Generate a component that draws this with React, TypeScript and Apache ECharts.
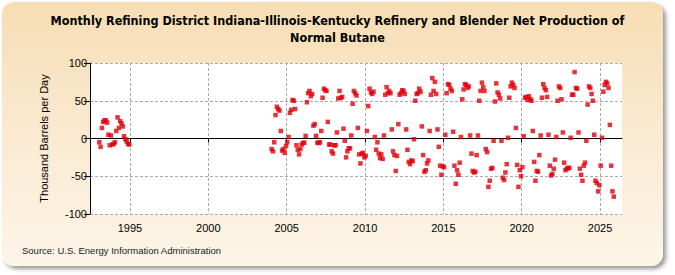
import React, { useEffect, useRef } from "react";
import * as echarts from "echarts";

// Monthly values (thousand barrels per day), Jan..Dec
const v1993 = [-5, -11, 14, 22, 24, 24, 21, 5, -9, 4, -8, -7];
const v1994 = [-5, 10, 28, 14, 23, 20, 16, 3, -1, -4, -7, -8];
const v2004 = [-14, -17, -5, 31, 42, 39, 37, 10, -16, -14, -19, -10];
const v2005 = [-5, 2, 34, 38, 51, 50, 39, -9, -15, -21, -14, -8];
const v2006 = [-6, -5.5, 3.5, 48, 60, 63, 56, 59, 17, 19, 3.5, -5.5];
const v2007 = [-6, -5, 10, 54, 66, 64, 63, 22, -8, -8, -17, -20];
const v2008 = [-9, -9, 8, 53, 63, 54, 55, 13, -3, -25, -17, -13];
const v2009 = [-13, 4, 46, 63, 60, 57, 14, -21, -33, -20, -19, -25];
const v2010 = [-23, 10, 43, 66, 61, 59, 62, 2, -15, -5, -20, -26];
const v2011 = [-21, -27, 4, 58, 68, 60, 63, 60, 12, -17, -22, -43];
const v2012 = [-23, 19, 58, 60, 64, 63, 59, 12, -15, -31, -34, -29];
const v2013 = [-30, -1, 50, 59, 60, 66, 62, 16, -22, -44, -42, -33];
const v2014 = [-29, 10, 58, 80, 63, 75, 59, 12, -11, -36, -48, -37];
const v2015 = [-38, 5, 60, 72, 71, 66, 63, 9, -36, -60, -42, -48];
const v2016 = [-32, 2, 52, 65, 72, 71, 67, 69, 4, -20, -43, -45];
const v2017 = [-44, -22, 4, 50, 63, 74, 68, 63, -14, -18, -64, -56];
const v2018 = [-40, -39, -3, 49, 73, 61, 58, 53, -3, -52, -55, -45];
const v2019 = [-34, 1, 54, 69, 74, 71, 67, 14, -35, -64, -42, -50];
const v2020 = [-38, 3, 54, 55, 51, 56, 52, 50, 10, -31, -56, -43];
const v2021 = [-44, -22, 4, 54, 72, 67, 64, 55, 5, -36, -49, -47];
const v2022 = [-40, -28, 2, 50, 69, 67, 52, 8, -32, -42, -40, -39];
const v2023 = [-39, 1, 58, 58, 88, 67, 66, 8, -40, -48, -56, -36];
const v2024 = [-32, -3, 45, 69, 67, 59, 50, 5, -56, -59, -70, -62];
const v2025 = [-36, 1, 62, 71, 75, 73, 67, 18, -36, -70, -77];

const yearly: [number, number[]][] = [
  [1993, v1993], [1994, v1994],
  [2004, v2004], [2005, v2005], [2006, v2006], [2007, v2007], [2008, v2008],
  [2009, v2009], [2010, v2010], [2011, v2011], [2012, v2012], [2013, v2013],
  [2014, v2014], [2015, v2015], [2016, v2016], [2017, v2017], [2018, v2018],
  [2019, v2019], [2020, v2020], [2021, v2021], [2022, v2022], [2023, v2023],
  [2024, v2024], [2025, v2025],
];

const xTicks = [1995, 2000, 2005, 2010, 2015, 2020, 2025];
const yTicks = [-100, -50, 0, 50, 100];

const titleText =
  "Monthly Refining District Indiana-Illinois-Kentucky Refinery and Blender Net Production of\nNormal Butane";
const yAxisName = "Thousand Barrels per Day";
const sourceText = "Source: U.S. Energy Information Administration";

export default function App() {
  const ref = useRef<HTMLDivElement>(null);
  useEffect(() => {
    if (!ref.current) return;
    const chart = echarts.init(ref.current, null, { renderer: "svg" });
    const points: [number, number][] = [];
    yearly.forEach(([yr, vals]) => {
      vals.forEach((v, i) => points.push([yr + (i + 0.5) / 12, v]));
    });
    const font = "Arial, 'Liberation Sans', sans-serif";
    chart.setOption({
      animation: false,
      title: {
        text: titleText,
        left: "center",
        top: 7,
        textStyle: {
          fontFamily: "'Liberation Sans Narrow', 'Arial Narrow', 'DejaVu Sans Condensed', sans-serif",
          fontSize: 12.5,
          fontWeight: "bold",
          color: "#000",
          lineHeight: 17,
        },
      },
      graphic: [
        {
          type: "text",
          left: 22,
          top: 245,
          style: { text: sourceText, fontFamily: font, fontSize: 9.5, fill: "#222" },
        },
      ],
      grid: {
        left: 90,
        right: 53,
        top: 63,
        bottom: 61,
        show: true,
        backgroundColor: "#ffffff",
        borderWidth: 0,
      },
      xAxis: {
        type: "value",
        min: 1992.45,
        max: 2026.4,
        axisLine: { show: true, lineStyle: { color: "#000", width: 1 } },
        axisTick: { show: true, length: 4, customValues: xTicks, lineStyle: { color: "#000" } },
        axisLabel: {
          customValues: xTicks,
          fontFamily: font,
          fontSize: 11,
          color: "#000",
          margin: 8,
          formatter: (v: number) => String(Math.round(v)),
        },
        splitLine: { show: true, lineStyle: { color: "#aaaaaa", type: [3, 2], width: 1 } },
      },
      yAxis: {
        type: "value",
        min: -100,
        max: 100,
        interval: 50,
        name: yAxisName,
        nameLocation: "middle",
        nameGap: 41,
        nameTextStyle: { fontFamily: font, fontSize: 11, color: "#000" },
        axisLine: { show: true, lineStyle: { color: "#000", width: 1 } },
        axisTick: { show: true, length: 6, lineStyle: { color: "#000" } },
        axisLabel: {
          fontFamily: font,
          fontSize: 11,
          color: "#000",
          margin: 3,
          customValues: yTicks,
        },
        splitLine: { show: true, lineStyle: { color: "#aaaaaa", type: [3, 2], width: 1 } },
      },
      series: [
        {
          type: "scatter",
          symbol: "rect",
          symbolSize: 4.5,
          itemStyle: { color: "#e0000b" },
          data: points,
        },
      ],
    });
    return () => chart.dispose();
  }, []);

  return (
    <div style={{ position: "fixed", left: 0, top: 0, width: 675, height: 275, background: "#ffffff" }}>
      <div
        style={{
          position: "absolute",
          left: 2,
          top: 2,
          width: 661,
          height: 264,
          borderRadius: 12,
          background: "linear-gradient(to bottom, #f6ddb3 0%, #fae9cf 45%, #fdf5e8 100%)",
          boxShadow: "3px 3px 4px rgba(0,0,0,0.4)",
        }}
      />
      <div ref={ref} style={{ position: "absolute", left: 0, top: 0, width: 675, height: 275 }} />
    </div>
  );
}
